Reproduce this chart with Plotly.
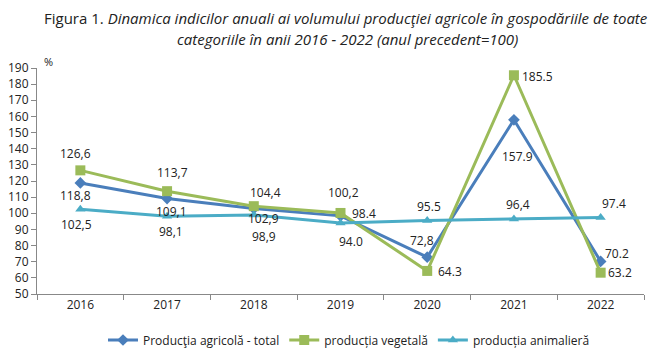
import plotly.graph_objects as go

years = ["2016", "2017", "2018", "2019", "2020", "2021", "2022"]
total = [118.8, 109.1, 102.9, 98.4, 72.8, 157.9, 70.2]
vegetal = [126.6, 113.7, 104.4, 100.2, 64.3, 185.5, 63.2]
animal = [102.5, 98.1, 98.9, 94.0, 95.5, 96.4, 97.4]

total_labels = ["118,8", "109,1", "102,9", "98.4", "72,8", "157.9", "70.2"]
vegetal_labels = ["126,6", "113,7", "104,4", "100,2", "64.3", "185.5", "63.2"]
animal_labels = ["102,5", "98,1", "98,9", "94.0", "95.5", "96,4", "97.4"]

# label offsets in pixels (dx right, dy down)
total_off = [(-5, 13), (4, 13), (10, 10), (23, -2), (-5, -17), (4, 37), (16, -8)]
vegetal_off = [(-5, -17), (5, -19), (12, -14), (3, -20), (23, 1), (24, 1), (19, 0)]
animal_off = [(-4, 15), (4, 15), (10, 21), (10, 19), (2, -14), (4, -15), (13, -14)]

names = ["Producţia agricolă - total", "producția vegetală", "producția animalieră"]
colors = ["#4A7EBB", "#9BBB59", "#4BACC6"]
symbols = ["diamond", "square", "triangle-up"]

FONT = "Open Sans, Lato, sans-serif"
TXT = "#222222"
fig = go.Figure()
annotations = []
for vals, labs, offs, name, col, sym in [
    (total, total_labels, total_off, names[0], colors[0], symbols[0]),
    (vegetal, vegetal_labels, vegetal_off, names[1], colors[1], symbols[1]),
    (animal, animal_labels, animal_off, names[2], colors[2], symbols[2]),
]:
    fig.add_trace(go.Scatter(
        x=years, y=vals, name=name, mode="lines+markers",
        line=dict(color=col, width=3),
        marker=dict(symbol=sym, size=9 if sym != "square" else 10, color=col),
        cliponaxis=False,
    ))
    for i, (yv, lab, (dx, dy)) in enumerate(zip(vals, labs, offs)):
        annotations.append(dict(
            x=i, y=yv, xref="x", yref="y", text=lab, showarrow=False,
            xshift=dx, yshift=-dy, xanchor="center", yanchor="middle",
            font=dict(size=12, family=FONT, color=TXT),
        ))

# title lines
annotations.append(dict(
    text="Figura 1. <i>Dinamica indicilor anuali ai volumului producţiei agricole în gospodăriile de toate</i>",
    x=346, y=18, xref="paper", yref="paper", showarrow=False,
    font=dict(size=15, family=FONT, color=TXT)))
annotations.append(dict(
    text="<i>categoriile în anii 2016 - 2022 (anul precedent=100)</i>",
    x=347, y=39, xref="paper", yref="paper", showarrow=False,
    font=dict(size=15, family=FONT, color=TXT)))
annotations.append(dict(text="%", x=48, y=61, xref="paper", yref="paper", showarrow=False,
                        font=dict(size=11, family=FONT, color=TXT)))

L, R, T, B = 37, 12, 68, 60
PW, PH = 656 - L - R, 354 - T - B
for a in annotations:
    if a["xref"] == "paper":
        a["x"] = (a["x"] - L) / PW
        a["y"] = (354 - B - a["y"]) / PH
        a["xanchor"] = "center"
        a["yanchor"] = "middle"

fig.update_layout(
    width=656, height=354,
    margin=dict(l=L, r=R, t=T, b=B, autoexpand=False),
    paper_bgcolor="white", plot_bgcolor="white",
    font=dict(family=FONT, size=12, color=TXT),
    showlegend=True,
    legend=dict(orientation="h", x=(349 - L) / PW, xanchor="center",
                y=(354 - B - 340) / PH, yanchor="middle",
                font=dict(size=12, family=FONT, color=TXT), itemwidth=30, tracegroupgap=0),
    xaxis=dict(
        type="category", range=[-0.5, 6.5], showgrid=False, automargin=False,
        showline=True, linecolor="#888", linewidth=1,
        ticks="outside", tickson="boundaries", ticklen=5, tickcolor="#888",
        tickfont=dict(size=12, family=FONT, color=TXT),
    ),
    yaxis=dict(
        range=[50, 190], dtick=10, showgrid=False, zeroline=False, automargin=False,
        showline=True, linecolor="#888", linewidth=1,
        ticks="outside", ticklen=5, tickcolor="#888",
        tickfont=dict(size=12, family=FONT, color=TXT),
    ),
    annotations=annotations,
)
fig.write_html("out.html")
